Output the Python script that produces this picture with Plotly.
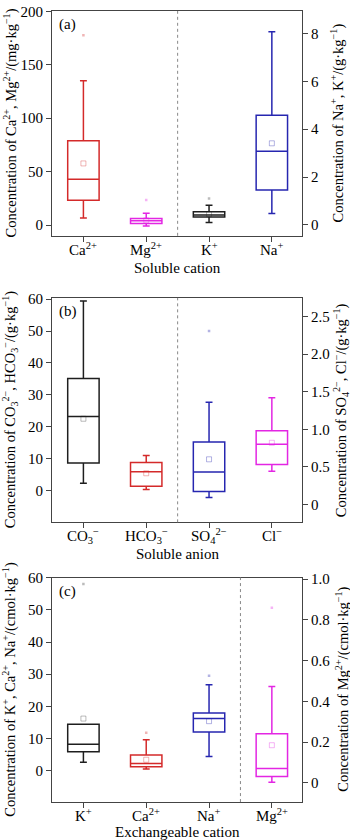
import plotly.graph_objects as go

# ---------------- data ----------------
# Panel (a): soluble cation
a_cats = ["Ca<sup>2+</sup>", "Mg<sup>2+</sup>", "K<sup>+</sup>", "Na<sup>+</sup>"]
a_side = ["left", "left", "right", "right"]
a_low = [6.7, -0.9, 0.10, 0.48]
a_q1 = [23.3, 1.6, 0.33, 1.46]
a_med = [43.0, 4.0, 0.41, 3.08]
a_q3 = [79.0, 6.1, 0.55, 4.58]
a_up = [135.0, 11.0, 0.82, 8.07]
a_mean = [57.7, 4.5, 0.45, 3.41]
a_out = [[177.6], [23.6], [1.1], []]

# Panel (b): soluble anion
b_cats = ["CO<sub>3</sub><sup>−</sup>", "HCO<sub>3</sub><sup>−</sup>", "SO<sub>4</sub><sup>2−</sup>", "Cl<sup>−</sup>"]
b_side = ["left", "left", "right", "right"]
b_low = [2.3, 0.3, 0.09, 0.44]
b_q1 = [8.6, 1.3, 0.17, 0.53]
b_med = [23.2, 5.9, 0.43, 0.80]
b_q3 = [35.1, 8.8, 0.83, 0.98]
b_up = [59.4, 11.0, 1.36, 1.42]
b_mean = [22.5, 5.4, 0.60, 0.82]
b_out = [[], [], [2.31], []]

# Panel (c): exchangeable cation
c_cats = ["K<sup>+</sup>", "Ca<sup>2+</sup>", "Na<sup>+</sup>", "Mg<sup>2+</sup>"]
c_side = ["left", "left", "left", "right"]
c_low = [2.6, 0.5, 4.4, 0.003]
c_q1 = [5.9, 1.2, 12.0, 0.031]
c_med = [8.2, 2.2, 16.2, 0.071]
c_q3 = [14.4, 4.9, 17.9, 0.241]
c_up = [14.4, 9.6, 26.7, 0.473]
c_mean = [16.2, 3.4, 15.4, 0.185]
c_out = [[58.0], [11.8], [29.5], [0.86]]

# tick labels
a_left_ticks = [0, 50, 100, 150, 200]
a_right_ticks = [0, 2, 4, 6, 8]
b_left_ticks = [0, 10, 20, 30, 40, 50, 60]
b_right_ticks = [0, 0.5, 1.0, 1.5, 2.0, 2.5]
b_right_text = ["0", "0.5", "1.0", "1.5", "2.0", "2.5"]
c_left_ticks = [0, 10, 20, 30, 40, 50, 60]
c_right_ticks = [0, 0.2, 0.4, 0.6, 0.8, 1.0]
c_right_text = ["0", "0.2", "0.4", "0.6", "0.8", "1.0"]

# ---------------- styles ----------------
RED = "#d42a2a"
MAG = "#e326e3"
BLUE = "#2626b0"
BLACK = "#1e1e1e"
PALE = {RED: "rgba(212,42,42,0.35)", MAG: "rgba(227,38,227,0.35)",
        BLUE: "rgba(38,38,176,0.35)", BLACK: "rgba(30,30,30,0.3)"}
a_colors = [RED, MAG, BLACK, BLUE]
b_colors = [BLACK, RED, BLUE, MAG]
c_colors = [BLACK, RED, BLUE, MAG]

FONT = "Liberation Serif"
W, H = 350, 840
XDOM = [52 / W, 302 / W]

fig = go.Figure()

panels = [
    dict(cats=a_cats, side=a_side, low=a_low, q1=a_q1, med=a_med, q3=a_q3, up=a_up,
         mean=a_mean, out=a_out, colors=a_colors, x="x", yl="y", yr="y2"),
    dict(cats=b_cats, side=b_side, low=b_low, q1=b_q1, med=b_med, q3=b_q3, up=b_up,
         mean=b_mean, out=b_out, colors=b_colors, x="x2", yl="y3", yr="y4"),
    dict(cats=c_cats, side=c_side, low=c_low, q1=c_q1, med=c_med, q3=c_q3, up=c_up,
         mean=c_mean, out=c_out, colors=c_colors, x="x3", yl="y5", yr="y6"),
]

for p in panels:
    for i, cat in enumerate(p["cats"]):
        ya = p["yl"] if p["side"][i] == "left" else p["yr"]
        col = p["colors"][i]
        fig.add_trace(go.Box(
            x=[cat], q1=[p["q1"][i]], median=[p["med"][i]], q3=[p["q3"][i]],
            lowerfence=[p["low"][i]], upperfence=[p["up"][i]],
            xaxis=p["x"], yaxis=ya, line=dict(color=col, width=1.5),
            fillcolor="rgba(255,255,255,0)", width=0.5, whiskerwidth=0.22,
            boxpoints=False, showlegend=False, hoverinfo="skip"))
        fig.add_trace(go.Scatter(
            x=[cat], y=[p["mean"][i]], mode="markers", xaxis=p["x"], yaxis=ya,
            marker=dict(symbol="square-open", size=5, color=PALE[col], line=dict(width=1)),
            showlegend=False, hoverinfo="skip"))
        if p["out"][i]:
            fig.add_trace(go.Scatter(
                x=[cat] * len(p["out"][i]), y=p["out"][i], mode="markers",
                xaxis=p["x"], yaxis=ya,
                marker=dict(symbol="square", size=2.5, color=PALE[col]),
                showlegend=False, hoverinfo="skip"))

axis_common = dict(showline=True, linecolor="#444", linewidth=1.2, ticks="outside",
                   ticklen=5, tickwidth=1.2, tickcolor="#444", showgrid=False,
                   zeroline=False, tickfont=dict(family=FONT, size=15, color="black"))

ydoms = [[1 - 230 / H, 1 - 3 / H], [1 - 519.3 / H, 1 - 292.7 / H], [1 - 801.7 / H, 1 - 575 / H]]
left_ranges = [[-10, 200.3], [-10, 60.4], [-9.75, 60.05]]
right_ranges = [[-0.455, 8.94], [-0.24, 2.75], [-0.094, 1.008]]
left_ticks = [(a_left_ticks, [str(v) for v in a_left_ticks]),
              (b_left_ticks, [str(v) for v in b_left_ticks]),
              (c_left_ticks, [str(v) for v in c_left_ticks])]
right_ticks = [(a_right_ticks, [str(v) for v in a_right_ticks]),
               (b_right_ticks, b_right_text),
               (c_right_ticks, c_right_text)]

layout = dict(width=W, height=H, margin=dict(l=0, r=0, t=0, b=0),
              paper_bgcolor="white", plot_bgcolor="white", boxmode="overlay",
              font=dict(family=FONT, size=15, color="black"))

for k, p in enumerate(panels):
    xn = "xaxis" if k == 0 else f"xaxis{k + 1}"
    yl_n = p["yl"].replace("y", "yaxis")
    yr_n = p["yr"].replace("y", "yaxis")
    layout[xn] = dict(axis_common, domain=XDOM, anchor=p["yl"], type="category",
                      categoryorder="array", categoryarray=p["cats"],
                      range=[-0.5, 3.48], mirror=True, showticklabels=False)
    layout[yl_n] = dict(axis_common, domain=ydoms[k], anchor=p["x"], range=left_ranges[k],
                        tickvals=left_ticks[k][0], ticktext=left_ticks[k][1], side="left")
    layout[yr_n] = dict(axis_common, domain=ydoms[k], anchor=p["x"], overlaying=p["yl"],
                        range=right_ranges[k], side="right",
                        tickvals=right_ticks[k][0], ticktext=right_ticks[k][1])

fig.update_layout(**layout)

# separators between left-axis and right-axis groups
for p in panels:
    sep = sum(1 for s in p["side"] if s == "left") - 0.5
    fig.add_shape(type="line", xref=p["x"], yref=p["yl"] + " domain",
                  x0=sep, x1=sep, y0=0, y1=1,
                  line=dict(color="#888", width=1, dash="dot"))

# category tick labels (placed through the category axis)
for p in panels:
    for i, cat in enumerate(p["cats"]):
        fig.add_annotation(text=cat, xref=p["x"], yref=p["yl"] + " domain",
                           x=i, y=0, xanchor="center", yanchor="top", yshift=-2,
                           showarrow=False, font=dict(family=FONT, size=15))

# panel letters
for lab, p in zip(["(a)", "(b)", "(c)"], panels):
    fig.add_annotation(text=lab, xref=p["x"] + " domain", yref=p["yl"] + " domain",
                       x=0.02, y=0.985, xanchor="left", yanchor="top", showarrow=False,
                       font=dict(family=FONT, size=15))

# axis titles
left_titles = [
    "Concentration of Ca<sup>2+</sup>, Mg<sup>2+</sup>/(mg·kg<sup>−1</sup>)",
    "Concentration of CO<sub>3</sub><sup>2−</sup>, HCO<sub>3</sub><sup>−</sup>/(g·kg<sup>−1</sup>)",
    "Concentration of K<sup>+</sup>, Ca<sup>2+</sup>, Na<sup>+</sup>/(cmol·kg<sup>−1</sup>)",
]
right_titles = [
    "Concentration of Na<sup>+</sup>, K<sup>+</sup>/(g·kg<sup>−1</sup>)",
    "Concentration of SO<sub>4</sub><sup>2−</sup>, Cl<sup>−</sup>/(g·kg<sup>−1</sup>)",
    "Concentration of Mg<sup>2+</sup>/(cmol·kg<sup>−1</sup>)",
]
x_titles = ["Soluble cation", "Soluble anion", "Exchangeable cation"]
right_x = [337, 341, 343]
x_title_y = [263, 551, 832]

for k, p in enumerate(panels):
    yc = (ydoms[k][0] + ydoms[k][1]) / 2
    fig.add_annotation(text=left_titles[k], xref="paper", yref="paper", x=10 / W, y=yc,
                       textangle=-90, showarrow=False, xanchor="center", yanchor="middle",
                       font=dict(family=FONT, size=14.5))
    fig.add_annotation(text=right_titles[k], xref="paper", yref="paper", x=right_x[k] / W, y=yc,
                       textangle=-90, showarrow=False, xanchor="center", yanchor="middle",
                       font=dict(family=FONT, size=14.5))
    fig.add_annotation(text=x_titles[k], xref="paper", yref="paper",
                       x=(XDOM[0] + XDOM[1]) / 2, y=1 - x_title_y[k] / H,
                       showarrow=False, xanchor="center", yanchor="middle",
                       font=dict(family=FONT, size=15))

fig.write_html("out.html")
